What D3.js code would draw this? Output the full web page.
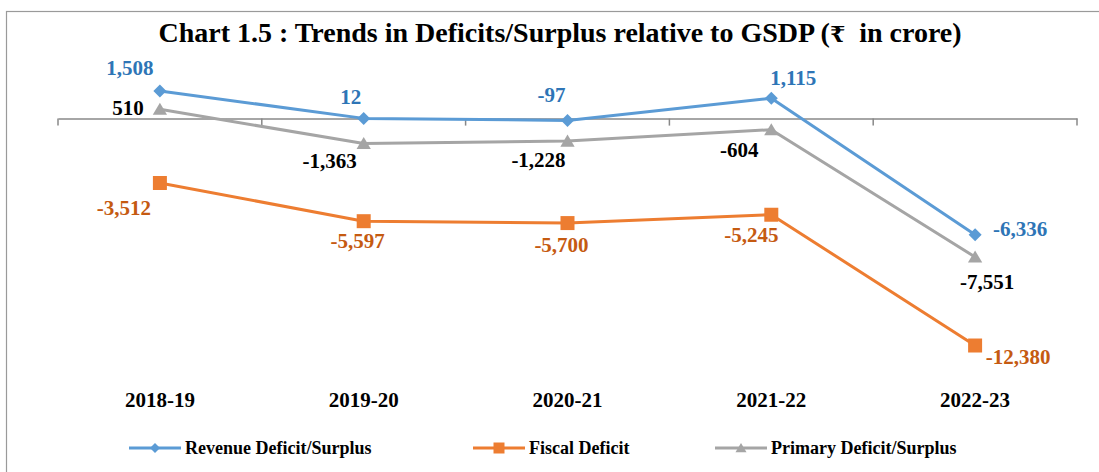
<!DOCTYPE html>
<html>
<head>
<meta charset="utf-8">
<script src="https://cdn.jsdelivr.net/npm/d3@7/dist/d3.min.js"></script>
<style>
  html, body { margin: 0; padding: 0; background: #fff; }
  svg { display: block; }
  text { font-family: "Liberation Serif", "Times New Roman", "DejaVu Serif", serif; font-weight: bold; }
</style>
</head>
<body>
<svg id="chart" width="1099" height="472"></svg>
<script>
// Years on the category axis
const years = ["2018-19", "2019-20", "2020-21", "2021-22", "2022-23"];

// Values in ₹ crore
const revenueDeficit = [1508, 12, -97, 1115, -6336];
const fiscalDeficit = [-3512, -5597, -5700, -5245, -12380];
const primaryDeficit = [510, -1363, -1228, -604, -7551];

const seriesNames = ["Revenue Deficit/Surplus", "Fiscal Deficit", "Primary Deficit/Surplus"];

// Hand-placed data label offsets (dx, dy) from each point, per series
const revenueLabelOffsets = [[-30, -16], [-13, -14], [-16, -18], [22, -13], [45, 1]];
const fiscalLabelOffsets = [[-36, 32], [-6, 27], [-6, 29], [-20, 27], [43, 18]];
const primaryLabelOffsets = [[-32, 6], [-34, 24], [-29, 26], [-32, 27], [12, 32]];

const W = 1099, H = 472;
const svg = d3.select("#chart");

svg.append("rect").attr("width", W).attr("height", H).attr("fill", "#fff");
// Outer chart frame
svg.append("rect")
  .attr("x", 6.5).attr("y", 11.5).attr("width", W + 10).attr("height", H + 10)
  .attr("fill", "none").attr("stroke", "#9a9a9a").attr("stroke-width", 1.2);

const x = d3.scaleBand().domain(years).range([58, 1077]);
const y = d3.scaleLinear().domain([-14000, 2000]).range([375.2, 81.95]);
const cx = d => x(d) + x.bandwidth() / 2;

// Title, with the rupee sign set in a font that carries the glyph
const title = svg.append("text")
  .attr("x", 560).attr("y", 42)
  .attr("text-anchor", "middle")
  .style("white-space", "pre")
  .attr("font-size", 28)
  .attr("fill", "#000");
title.append("tspan").text("Chart 1.5 : Trends in Deficits/Surplus relative to GSDP (");
title.append("tspan").attr("font-family", "DejaVu Serif").attr("font-size", 22).text("₹");
title.append("tspan").text("  in crore)");
const tw = title.node().getComputedTextLength();
if (tw > 810) title.attr("font-size", 28 * 805 / tw);

// Horizontal axis at zero with ticks between categories
const axis = svg.append("g")
  .attr("transform", `translate(0,${y(0)})`)
  .call(d3.axisBottom(x).tickValues([]).tickSizeOuter(0));
axis.select(".domain").attr("stroke", "#888").attr("stroke-width", 1.5);
const boundaries = years.map(d => x(d)).concat([x.range()[1]]);
axis.selectAll("line.bound").data(boundaries).join("line")
  .attr("class", "bound")
  .attr("x1", d => d).attr("x2", d => d)
  .attr("y1", 0).attr("y2", 7)
  .attr("stroke", "#888").attr("stroke-width", 1.5);

// Category labels below the plot
svg.append("g").selectAll("text").data(years).join("text")
  .attr("x", d => cx(d)).attr("y", 407)
  .attr("text-anchor", "middle")
  .attr("font-size", 21)
  .attr("fill", "#000")
  .text(d => d);

const fmt = d3.format(",");

const series = [
  { name: seriesNames[0], values: revenueDeficit, color: "#5B9BD5", labelColor: "#2E75B6", marker: "diamond", offsets: revenueLabelOffsets },
  { name: seriesNames[2], values: primaryDeficit, color: "#A5A5A5", labelColor: "#000000", marker: "triangle", offsets: primaryLabelOffsets },
  { name: seriesNames[1], values: fiscalDeficit, color: "#ED7D31", labelColor: "#C55A11", marker: "square", offsets: fiscalLabelOffsets }
];

function markerPath(type, size) {
  const s = size / 2;
  if (type === "diamond") return `M0,${-s}L${s},0L0,${s}L${-s},0Z`;
  if (type === "square") return `M${-s},${-s}H${s}V${s}H${-s}Z`;
  return `M0,${-s}L${s * 1.1},${s * 0.85}L${-s * 1.1},${s * 0.85}Z`;
}

const line = d3.line().x((d, i) => cx(years[i])).y(d => y(d));

series.forEach(s => {
  const g = svg.append("g");
  g.append("path")
    .attr("d", line(s.values))
    .attr("fill", "none")
    .attr("stroke", s.color)
    .attr("stroke-width", 3)
    .attr("stroke-linejoin", "round");
  g.selectAll("path.mk").data(s.values).join("path")
    .attr("class", "mk")
    .attr("transform", (d, i) => `translate(${cx(years[i])},${y(d)})`)
    .attr("d", markerPath(s.marker, s.marker === "square" ? 14 : 13))
    .attr("fill", s.color);
  g.selectAll("text").data(s.values).join("text")
    .attr("x", (d, i) => cx(years[i]) + s.offsets[i][0])
    .attr("y", (d, i) => y(d) + s.offsets[i][1])
    .attr("text-anchor", "middle")
    .attr("font-size", 21)
    .attr("fill", s.labelColor)
    .text(d => fmt(d).replace("−", "-"));
});

// Legend
const legendItems = [
  { name: seriesNames[0], color: "#5B9BD5", marker: "diamond", x: 129 },
  { name: seriesNames[1], color: "#ED7D31", marker: "square", x: 473 },
  { name: seriesNames[2], color: "#A5A5A5", marker: "triangle", x: 715 }
];
const lg = svg.append("g").selectAll("g").data(legendItems).join("g")
  .attr("transform", d => `translate(${d.x},448)`);
lg.append("line")
  .attr("x1", 0).attr("x2", 52).attr("y1", 0).attr("y2", 0)
  .attr("stroke", d => d.color).attr("stroke-width", 3);
lg.append("path")
  .attr("transform", "translate(26,0)")
  .attr("d", d => markerPath(d.marker, d.marker === "square" ? 11 : 10))
  .attr("fill", d => d.color);
lg.append("text")
  .attr("x", 56).attr("y", 5.5)
  .attr("font-size", 18)
  .attr("fill", "#000")
  .text(d => d.name);
</script>
</body>
</html>
